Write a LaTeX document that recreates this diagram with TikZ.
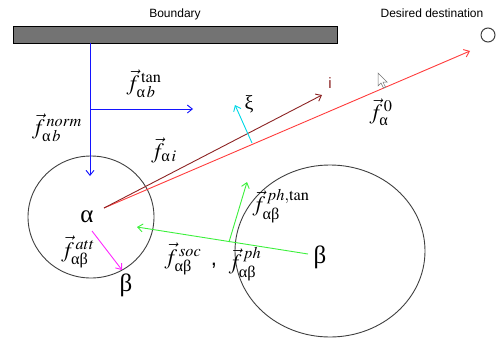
\documentclass[tikz,border=0pt]{standalone}
\usepackage{amsmath}
\usepackage{mathptmx}
\usepackage{fontspec}
\setmainfont{Liberation Sans}
\newfontfamily\grk{Liberation Serif}
\usetikzlibrary{arrows.meta}
\newcommand{\ga}{\text{\grk α}}
\newcommand{\gb}{\text{\grk β}}
\newcommand{\fvec}{\vec{f}}
\definecolor{cred}{RGB}{255,60,60}
\definecolor{cbrown}{RGB}{140,35,35}
\definecolor{cblue}{RGB}{20,20,255}
\definecolor{ccyan}{RGB}{0,215,230}
\definecolor{cgreen}{RGB}{60,240,60}
\definecolor{cmag}{RGB}{255,40,255}
\begin{document}
\begin{tikzpicture}[x=1pt,y=-1pt,
  vec/.style={line width=0.9pt,-{Straight Barb[length=5pt,width=8pt]}},
  flabel/.style={inner sep=0pt,font=\fontsize{22}{22}\selectfont},
  greek/.style={inner sep=0pt,font=\fontsize{25}{25}\selectfont\grk},
  plain/.style={inner sep=0pt,font=\fontsize{12}{12}\selectfont},
  ring/.style={draw=black!75,line width=0.9pt}]
\useasboundingbox (0,0) rectangle (502,340);
% boundary
\node[plain] (blabel) at (175,14) {Boundary};
\draw[fill=black!55,draw=black,line width=0.8pt] (13,26) rectangle (337,43);
\coordinate (bfoot) at (90,43);
% destination
\node[plain] (dlabel) at (432,13) {Desired destination};
\node[draw=black!75,line width=1pt,circle,minimum size=14pt,inner sep=0pt] (dest) at (488,35) {};
% pedestrians
\draw[ring] (91,217) ellipse [x radius=63, y radius=61];
\draw[ring] (330,251) ellipse [x radius=95, y radius=86];
\node[greek] (alpha) at (87,217) {α};
\node[greek] (beta) at (320,257) {β};
\node[greek] (beta2) at (126,285) {β};
% coordinates
\coordinate (aC) at (104,208);
\coordinate (bC) at (308,254);
\coordinate (normEnd) at (90,176);
\coordinate (tanStart) at (90,109);
\coordinate (tanEnd) at (193,109);
\coordinate (destTip) at (470,51);
\coordinate (iTip) at (322,95);
\coordinate (xiStart) at (252,143);
\coordinate (xiTip) at (235,105);
\coordinate (socTip) at (137,227);
\coordinate (phStart) at (229,242);
\coordinate (phTip) at (247,182);
\coordinate (attStart) at (92,231);
\coordinate (attTip) at (122,270);
% arrows
\draw[vec,cblue] (bfoot) -- (normEnd);
\draw[vec,cblue] (tanStart) -- (tanEnd);
\draw[vec,cred] (aC) -- (destTip);
\draw[vec,cbrown] (aC) -- (iTip);
\draw[vec,ccyan] (xiStart) -- (xiTip);
\draw[vec,cgreen] (bC) -- (socTip);
\draw[vec,cgreen] (phStart) -- (phTip);
\draw[vec,cmag] (attStart) -- (attTip);
% labels
\node[flabel] (ltan) at (144,84) {$\fvec^{\,\mathrm{tan}}_{\ga\,b}$};
\node[flabel] (lnorm) at (57,128) {$\fvec^{\,norm}_{\ga\,b}$};
\node[flabel] (lai) at (164,150) {$\fvec_{\ga\,i}$};
\node[font=\fontsize{15}{15}\selectfont,text=cbrown,inner sep=0pt] (li) at (330,83) {i};
\node[greek,font=\fontsize{20}{20}\selectfont\grk] (lxi) at (249,104) {ξ};
\node[flabel] (l0) at (381,112) {$\fvec^{\,0}_{\ga}$};
\node[flabel] (latt) at (78,252) {$\fvec^{\,att}_{\ga\gb}$};
\node[flabel] (lsoc) at (183,259) {$\fvec^{\,soc}_{\ga\gb}$};
\node[flabel] (lcomma) at (214,266) {,};
\node[flabel] (lph) at (245,264) {$\fvec^{\,ph}_{\ga\gb}$};
\node[flabel] (lphtan) at (281,206) {$\fvec^{\,ph,\mathrm{tan}}_{\ga\gb}$};
% cursor
\draw[black!55,fill=white,line width=0.5pt,shift={(378,73)}]
  (0,0) -- (0,13) -- (3,10) -- (5.5,15) -- (7.5,14) -- (5,9.2) -- (9.2,9.2) -- cycle;
\end{tikzpicture}
\end{document}
